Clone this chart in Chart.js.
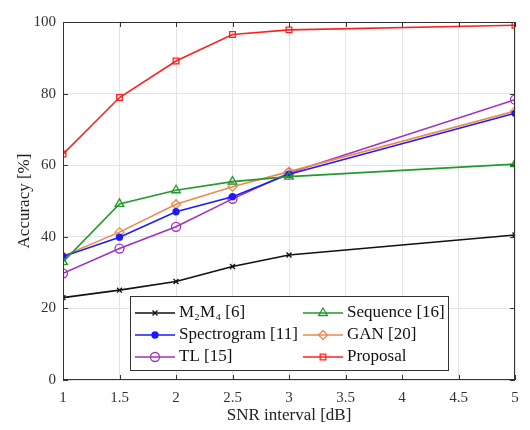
<!DOCTYPE html>
<html><head><meta charset="utf-8">
<script src="https://cdn.jsdelivr.net/npm/chart.js@4/dist/chart.umd.min.js"></script>
<style>html,body{margin:0;padding:0;background:#fff}</style>
</head><body>
<canvas id="c" width="530" height="430"></canvas>
<script>
const snr = [1, 1.5, 2, 2.5, 3, 5];
const m2m4 = [23, 25.1, 27.5, 31.7, 34.9, 40.5];
const sequence = [33, 49.2, 53, 55.4, 56.8, 60.3];
const spectrogram = [34.5, 39.9, 47, 51.2, 57.5, 74.5];
const gan = [34.6, 41.3, 49.1, 54, 58.2, 75.1];
const tl = [29.8, 36.7, 42.8, 50.6, 57.8, 78.3];
const proposal = [63.1, 78.9, 89.1, 96.5, 97.8, 99.1];
const labels = ['M₂M₄ [6]', 'Sequence [16]', 'Spectrogram [11]', 'GAN [20]', 'TL [15]', 'Proposal'];

const pts = arr => arr.map((v, i) => ({x: snr[i], y: v}));
function ds(label, data, color, style, radius, fill) {
  return {label, data: pts(data), borderColor: color, backgroundColor: fill ? color : 'rgba(255,255,255,0)',
    pointStyle: style, pointRadius: radius, pointBorderColor: color, pointBackgroundColor: fill ? color : 'rgba(255,255,255,0)',
    pointBorderWidth: 1.3, borderWidth: 1.6, tension: 0};
}
const datasets = [
  ds(labels[0], m2m4, '#111111', 'crossRot', 3.5, false),
  ds(labels[1], sequence, '#22992a', 'triangle', 5, false),
  ds(labels[2], spectrogram, '#1a1aff', 'circle', 3, true),
  ds(labels[3], gan, '#ec8a4e', 'rectRot', 4.5, false),
  ds(labels[4], tl, '#a030c0', 'circle', 4.5, false),
  ds(labels[5], proposal, '#ff2020', 'rect', 4, false),
];

const serif = '"Liberation Serif", "Times New Roman", serif';

const frame = {
  id: 'frame',
  afterDraw(chart) {
    const {ctx, chartArea: a, scales: {x, y}} = chart;
    ctx.save();
    ctx.strokeStyle = '#333';
    ctx.lineWidth = 1;
    ctx.strokeRect(a.left + 0.5, a.top + 0.5, a.right - a.left - 1, a.bottom - a.top - 1);
    ctx.beginPath();
    x.ticks.forEach(t => {
      const px = Math.round(x.getPixelForValue(t.value)) + 0.5;
      ctx.moveTo(px, a.bottom); ctx.lineTo(px, a.bottom - 5);
      ctx.moveTo(px, a.top); ctx.lineTo(px, a.top + 5);
    });
    y.ticks.forEach(t => {
      const py = Math.round(y.getPixelForValue(t.value)) + 0.5;
      ctx.moveTo(a.left, py); ctx.lineTo(a.left + 5, py);
      ctx.moveTo(a.right, py); ctx.lineTo(a.right - 5, py);
    });
    ctx.stroke();

    // legend box inside plot
    const bx = 130, by = 296, bw = 318, bh = 74;
    ctx.fillStyle = '#fff';
    ctx.fillRect(bx, by, bw, bh);
    ctx.strokeStyle = '#333';
    ctx.strokeRect(bx + 0.5, by + 0.5, bw, bh);
    const cols = [135, 303];
    const rows = [313, 335, 357];
    ctx.font = '17px ' + serif;
    ctx.textBaseline = 'middle';
    chart.data.datasets.forEach((d, i) => {
      const cx = cols[i % 2], cy = rows[Math.floor(i / 2)];
      ctx.strokeStyle = d.borderColor;
      ctx.lineWidth = d.borderWidth;
      ctx.beginPath(); ctx.moveTo(cx, cy); ctx.lineTo(cx + 40, cy); ctx.stroke();
      ctx.lineWidth = d.pointBorderWidth;
      ctx.fillStyle = d.pointBackgroundColor;
      if (Chart.helpers && Chart.helpers.drawPoint) {
        Chart.helpers.drawPoint(ctx, {pointStyle: d.pointStyle, radius: d.pointRadius, borderWidth: d.pointBorderWidth, rotation: 0}, cx + 20, cy);
      }
      ctx.fillStyle = '#111';
      ctx.fillText(d.label, cx + 44, cy);
    });
    ctx.restore();
  }
};

new Chart(document.getElementById('c'), {
  type: 'line',
  data: {datasets},
  options: {
    responsive: false, animation: false,
    layout: {padding: {left: 10, right: 15, top: 22, bottom: 0}},
    plugins: {legend: {display: false}, tooltip: {enabled: false}},
    scales: {
      x: {type: 'linear', min: 1, max: 5,
        ticks: {stepSize: 0.5, color: '#333', font: {family: serif, size: 15}, padding: 9, callback: v => String(v)},
        grid: {color: '#e4e4e4', drawTicks: false}, border: {display: false},
        title: {display: true, text: 'SNR interval [dB]', color: '#222', font: {family: serif, size: 17}, padding: {top: 0}},
        afterFit: s => { s.height = 50; }
      },
      y: {min: 0, max: 100,
        ticks: {stepSize: 20, color: '#333', font: {family: serif, size: 15}, padding: 7},
        grid: {color: '#e4e4e4', drawTicks: false}, border: {display: false},
        title: {display: true, text: 'Accuracy [%]', color: '#222', font: {family: serif, size: 17}, padding: {bottom: 2}},
        afterFit: s => { s.width = 53; }
      }
    }
  },
  plugins: [frame]
});
</script>
</body></html>
